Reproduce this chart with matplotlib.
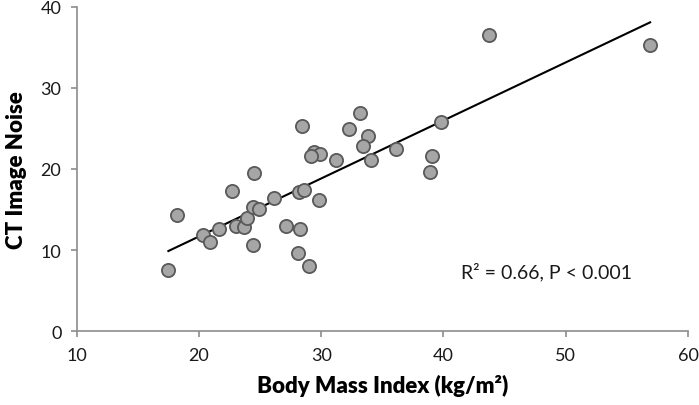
import matplotlib
matplotlib.use("Agg")
import matplotlib.pyplot as plt
import numpy as np

plt.rcParams['font.family'] = ['Lato', 'DejaVu Sans']

# body mass index (kg/m2) and CT image noise
bmi = [17.5, 18.2, 20.3, 20.9, 21.6, 22.7, 23.0, 23.7, 23.9, 24.4,
       24.9, 24.5, 24.4, 26.1, 27.1, 28.3, 28.1, 29.0, 28.2, 28.6,
       29.8, 29.4, 29.9, 29.2, 31.2, 28.4, 33.2, 32.3, 33.8, 33.4,
       36.1, 34.1, 39.1, 38.9, 39.8, 43.7, 56.9]
noise = [7.6, 14.3, 11.9, 11.0, 12.6, 17.3, 13.0, 12.8, 13.9, 15.3,
         15.1, 19.5, 10.6, 16.4, 13.0, 12.6, 9.7, 8.0, 17.1, 17.4,
         16.2, 22.1, 21.8, 21.6, 21.1, 25.3, 26.9, 24.9, 24.1, 22.8,
         22.5, 21.1, 21.6, 19.6, 25.8, 36.5, 35.3]

xticks = [10, 20, 30, 40, 50, 60]
yticks = [0, 10, 20, 30, 40]

fig = plt.figure(figsize=(6.99, 4.06), dpi=100)
ax = fig.add_axes([0.1097, 0.1815, 0.8746, 0.8])

ax.scatter(bmi, noise, s=90, facecolor='#a6a6a6', edgecolor='#595959',
           linewidth=1.3, zorder=3)

# least squares line over the range of the data
slope, icept = np.polyfit(bmi, noise, 1)
xl = np.array([min(bmi), max(bmi)])
ax.plot(xl, slope*xl + icept, color='black', linewidth=1.5, zorder=2)

ax.set_xlim(10, 60)
ax.set_ylim(0, 40)
ax.set_xticks(xticks)
ax.set_yticks(yticks)
for s in ['top', 'right']:
    ax.spines[s].set_visible(False)
for s in ['left', 'bottom']:
    ax.spines[s].set_color('#8c8c8c')
    ax.spines[s].set_linewidth(1.2)
ax.tick_params(direction='out', length=4, width=1.2, color='#8c8c8c',
               labelsize=13, labelcolor='#1a1a1a', pad=7)

ax.set_xlabel('Body Mass Index (kg/m²)', fontsize=16, fontweight='heavy',
              color='black', labelpad=8)
ax.set_ylabel('CT Image Noise', fontsize=16, fontweight='heavy',
              color='black', labelpad=10)

ax.text(41.4, 7.4, 'R² = 0.66, P < 0.001', fontsize=14, color='#1a1a1a',
        va='center', ha='left')

fig.savefig('out.png', dpi=100)
